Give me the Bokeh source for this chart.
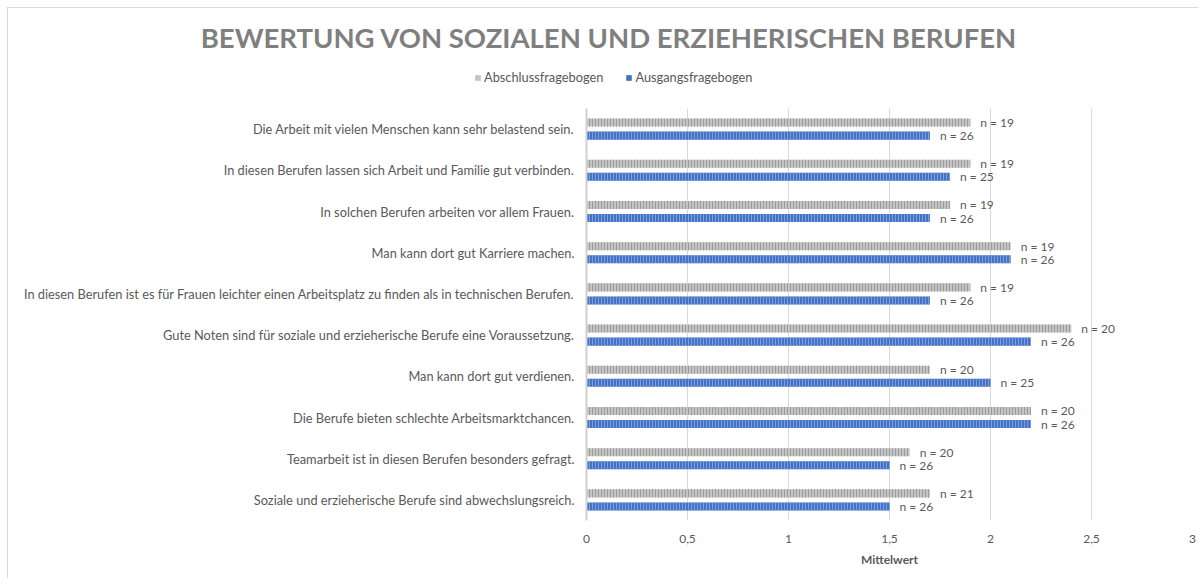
from bokeh.plotting import figure
from bokeh.layouts import column
from bokeh.models import (ColumnDataSource, FactorRange, Range1d, FixedTicker, Label,
                          Legend, LegendItem)
from bokeh.transform import dodge
from bokeh.core.properties import value
from bokeh.embed import file_html
from bokeh.resources import INLINE

title_text = "BEWERTUNG VON SOZIALEN UND ERZIEHERISCHEN BERUFEN"
categories = [
    "Die Arbeit mit vielen Menschen kann sehr belastend sein.",
    "In diesen Berufen lassen sich Arbeit und Familie gut verbinden.",
    "In solchen Berufen arbeiten vor allem Frauen.",
    "Man kann dort gut Karriere machen.",
    "In diesen Berufen ist es für Frauen leichter einen Arbeitsplatz zu finden als in technischen Berufen.",
    "Gute Noten sind für soziale und erzieherische Berufe eine Voraussetzung.",
    "Man kann dort gut verdienen.",
    "Die Berufe bieten schlechte Arbeitsmarktchancen.",
    "Teamarbeit ist in diesen Berufen besonders gefragt.",
    "Soziale und erzieherische Berufe sind abwechslungsreich.",
]
abschluss = [1.9, 1.9, 1.8, 2.1, 1.9, 2.4, 1.7, 2.2, 1.6, 1.7]
ausgang = [1.7, 1.8, 1.7, 2.1, 1.7, 2.2, 2.0, 2.2, 1.5, 1.5]
n_abschluss = [19, 19, 19, 19, 19, 20, 20, 20, 20, 21]
n_ausgang = [26, 25, 26, 26, 26, 26, 25, 26, 26, 26]
series_names = ["Abschlussfragebogen", "Ausgangsfragebogen"]
tick_values = [0, 0.5, 1, 1.5, 2, 2.5, 3]
tick_labels = ["0", "0,5", "1", "1,5", "2", "2,5", "3"]
x_title = "Mittelwert"

FONT = "Lato"
TXT = "#595959"
GRAY_FILL, GRAY_HATCH = "#c4c4c4", "#9c9c9c"
BLUE_FILL, BLUE_HATCH = "#4472c4", "#7d9fe0"

W = 1190
HEAD_H = 100
MAIN_H = 470

# ---------------- header (title + legend) ----------------
head = figure(width=W, height=HEAD_H, x_range=Range1d(0, W), y_range=Range1d(0, HEAD_H),
              output_backend="svg", toolbar_location=None,
              min_border=0, min_border_left=0, min_border_right=0,
              min_border_top=0, min_border_bottom=0)
head.frame_align = False
head.axis.visible = False
head.grid.visible = False
head.outline_line_color = None

# zero-size proxy bars that only supply the legend swatches
legend_src = ColumnDataSource(dict(y=[0], left=[0], right=[0]))
d_a = head.hbar(y="y", left="left", right="right", height=0, source=legend_src,
                fill_color=GRAY_FILL, line_color=None)
d_b = head.hbar(y="y", left="left", right="right", height=0, source=legend_src,
                fill_color=BLUE_FILL, line_color=None)

head.add_layout(Label(x=600.5, y=71, text=title_text, text_align="center",
                      text_baseline="middle", text_font=FONT, text_font_size="27.5px",
                      text_font_style="bold", text_color="#7f7f7f"))

legend = Legend(items=[LegendItem(label=series_names[0], renderers=[d_a]),
                       LegendItem(label=series_names[1], renderers=[d_b])],
                orientation="horizontal", location=(466, 23),
                padding=0, margin=0, spacing=22, label_standoff=3,
                glyph_width=7, glyph_height=7,
                label_text_font=FONT, label_text_font_size="12.8px", label_text_color=TXT,
                border_line_color=None, background_fill_alpha=0)
head.add_layout(legend, "center")

# ---------------- main chart ----------------
src = ColumnDataSource(dict(
    cat=categories,
    a=abschluss,
    b=ausgang,
    na=["n = %d" % v for v in n_abschluss],
    nb=["n = %d" % v for v in n_ausgang],
))

p = figure(
    width=W, height=MAIN_H,
    y_range=FactorRange(factors=list(reversed(categories)), range_padding=0),
    x_range=Range1d(0, 3),
    output_backend="svg", toolbar_location=None,
    min_border_left=578, min_border_right=6, min_border_top=0, min_border_bottom=58,
)
p.frame_align = False
p.outline_line_color = None

off = 0.158
h = 0.195
p.hbar(y=dodge("cat", off, range=p.y_range), right="a", left=0, height=h, source=src,
       fill_color=GRAY_FILL, line_color=None,
       hatch_pattern="|", hatch_color=GRAY_HATCH, hatch_scale=3, hatch_weight=1)
p.hbar(y=dodge("cat", -off, range=p.y_range), right="b", left=0, height=h, source=src,
       fill_color=BLUE_FILL, line_color=None,
       hatch_pattern="|", hatch_color=BLUE_HATCH, hatch_scale=3, hatch_weight=1)

p.text(x="a", y=dodge("cat", off, range=p.y_range), text="na", source=src,
       x_offset=10, text_baseline="middle", text_align="left",
       text_font=value(FONT), text_font_size="12px", text_color=TXT)
p.text(x="b", y=dodge("cat", -off, range=p.y_range), text="nb", source=src,
       x_offset=10, text_baseline="middle", text_align="left",
       text_font=value(FONT), text_font_size="12px", text_color=TXT)

p.xaxis.ticker = FixedTicker(ticks=tick_values)
p.xaxis.major_label_overrides = dict(zip(tick_values, tick_labels))
p.xaxis.axis_line_color = None
p.xaxis.major_tick_line_color = None
p.xaxis.minor_tick_line_color = None
p.xaxis.major_label_standoff = 8
p.xaxis.major_label_text_font = FONT
p.xaxis.major_label_text_font_size = "12px"
p.xaxis.major_label_text_color = TXT
p.xaxis.axis_label = x_title
p.xaxis.axis_label_text_font = FONT
p.xaxis.axis_label_text_font_size = "12px"
p.xaxis.axis_label_text_font_style = "bold"
p.xaxis.axis_label_text_color = TXT
p.xaxis.axis_label_standoff = 6

p.yaxis.axis_line_color = "#d0d0d0"
p.yaxis.axis_line_width = 2
p.yaxis.major_tick_line_color = None
p.yaxis.minor_tick_line_color = None
p.yaxis.major_label_standoff = 6
p.yaxis.major_label_text_font = FONT
p.yaxis.major_label_text_font_size = "12.8px"
p.yaxis.major_label_text_color = TXT

p.xgrid.grid_line_color = "#d9d9d9"
p.ygrid.grid_line_color = None

layout = column(head, p, spacing=0)
layout.styles = {"margin-left": "7px", "margin-top": "7px",
                 "border-left": "1px solid #d9d9d9", "border-top": "1px solid #d9d9d9"}

open("out.html", "w").write(file_html(layout, INLINE))
